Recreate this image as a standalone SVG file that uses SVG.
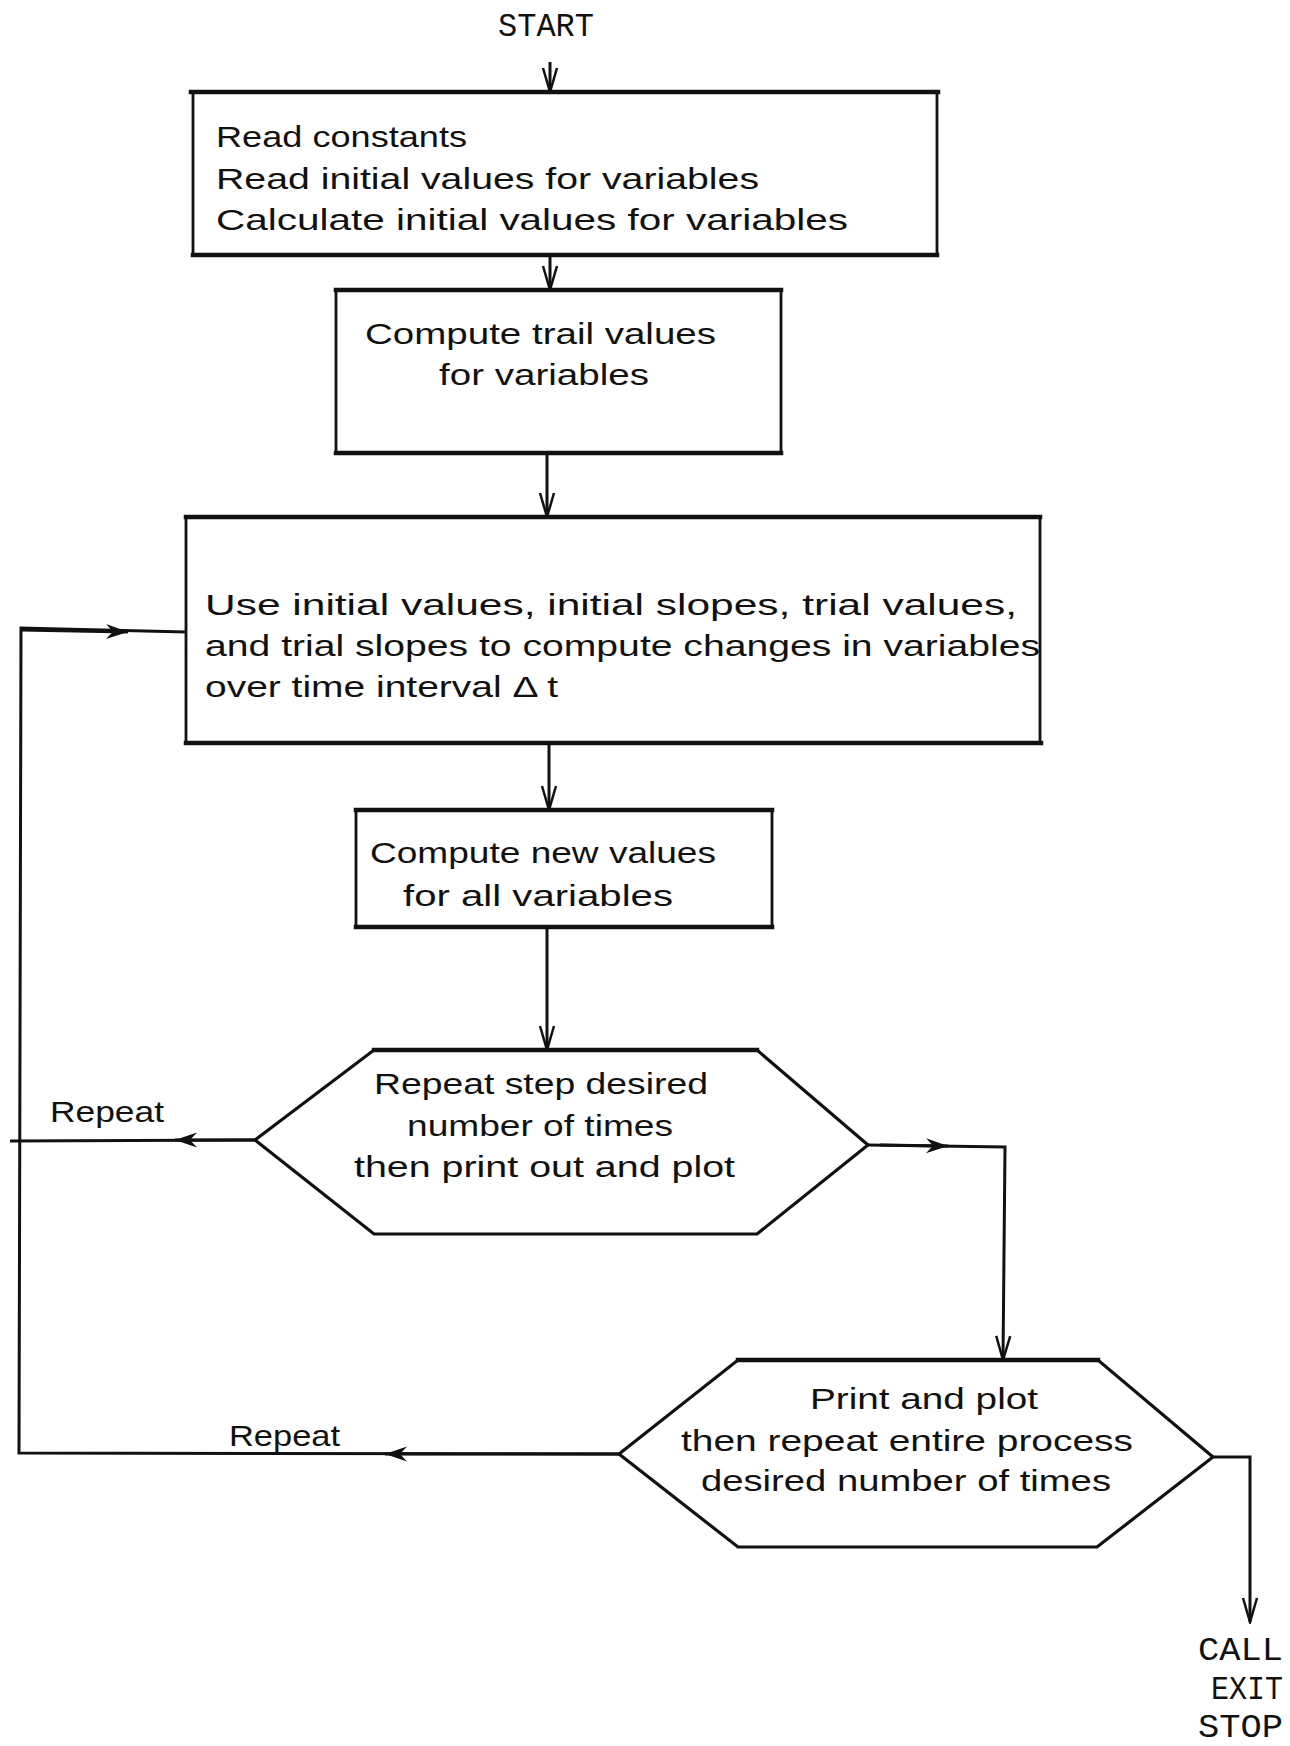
<svg xmlns="http://www.w3.org/2000/svg" width="1290" height="1746" viewBox="0 0 1290 1746">
<style>
.box{fill:#fff;stroke:#111;stroke-width:2.8}
.edge{stroke:#111;stroke-width:4.5;stroke-linecap:square}
.hex{fill:#fff;stroke:#111;stroke-width:3.2}
.t{font-family:"Liberation Sans","DejaVu Sans",sans-serif;font-size:29px;fill:#111}
.tw{font-family:"Liberation Mono","DejaVu Sans Mono",monospace;font-size:34px;fill:#111}
.c{fill:none;stroke:#111;stroke-width:3}
</style>
<defs>
<marker id="vee" viewBox="-26 -10 28 20" refX="0" refY="0" markerWidth="28" markerHeight="20" markerUnits="userSpaceOnUse" orient="auto">
<path d="M-24,-7 L0,0 L-24,7" fill="none" stroke="#111" stroke-width="2.5"/>
</marker>
<marker id="barb" viewBox="-26 -10 28 20" refX="0" refY="0" markerWidth="28" markerHeight="20" markerUnits="userSpaceOnUse" orient="auto">
<path d="M0,0 L-22,-7.5 L-15,0 L-22,7.5 Z" fill="#111"/>
</marker>
</defs>

<text class="tw" x="546" y="36" text-anchor="middle" textLength="96" lengthAdjust="spacingAndGlyphs">START</text>

<g id="connectors">
<path class="c" d="M550,62 L550,92" marker-end="url(#vee)"/>
<path class="c" d="M550,255 L550,290" marker-end="url(#vee)"/>
<path class="c" d="M547,453 L547,517" marker-end="url(#vee)"/>
<path class="c" d="M549,743 L549,810" marker-end="url(#vee)"/>
<path class="c" d="M547,927 L547,1050" marker-end="url(#vee)"/>
<path class="c" d="M868,1145 L1005,1147 L1003,1360" marker-end="url(#vee)"/>
<path class="c" d="M880,1145 L948,1146" marker-end="url(#barb)"/>
<path class="c" d="M255,1140 L10,1141"/>
<path class="c" d="M255,1140 L175,1140" marker-end="url(#barb)"/>
<path class="c" d="M619,1454 L19,1453 L21,628 L186,632"/>
<path class="c" d="M619,1454 L385,1454" marker-end="url(#barb)"/>
<path class="c" d="M21,630 L128,632" marker-end="url(#barb)"/>
<path class="c" d="M1213,1457 L1250,1457 L1250,1622" marker-end="url(#vee)"/>
</g>

<g id="n1">
<rect class="box" x="193" y="92" width="744" height="163"/>
<line class="edge" x1="191" y1="92" x2="938" y2="92"/>
<line class="edge" x1="193" y1="255" x2="937" y2="255"/>
<text class="t" x="216" y="147" textLength="251" lengthAdjust="spacingAndGlyphs">Read constants</text>
<text class="t" x="216" y="189" textLength="543" lengthAdjust="spacingAndGlyphs">Read initial values for variables</text>
<text class="t" x="216" y="230" textLength="632" lengthAdjust="spacingAndGlyphs">Calculate initial values for variables</text>
</g>

<g id="n2">
<rect class="box" x="336" y="290" width="445" height="163"/>
<line class="edge" x1="336" y1="290" x2="781" y2="290"/>
<line class="edge" x1="336" y1="453" x2="781" y2="453"/>
<text class="t" x="365" y="344" textLength="351" lengthAdjust="spacingAndGlyphs">Compute trail values</text>
<text class="t" x="439" y="385" textLength="210" lengthAdjust="spacingAndGlyphs">for variables</text>
</g>

<g id="n3">
<rect class="box" x="186" y="517" width="854" height="226"/>
<line class="edge" x1="186" y1="517" x2="1040" y2="517"/>
<line class="edge" x1="186" y1="743" x2="1041" y2="743"/>
<text class="t" x="205" y="615" textLength="812" lengthAdjust="spacingAndGlyphs">Use initial values, initial slopes, trial values,</text>
<text class="t" x="205" y="656" textLength="835" lengthAdjust="spacingAndGlyphs">and trial slopes to compute changes in variables</text>
<text class="t" x="205" y="697" textLength="353" lengthAdjust="spacingAndGlyphs">over time interval Δ t</text>
</g>

<g id="n4">
<rect class="box" x="356" y="810" width="416" height="117"/>
<line class="edge" x1="356" y1="810" x2="772" y2="810"/>
<line class="edge" x1="356" y1="927" x2="772" y2="927"/>
<text class="t" x="370" y="863" textLength="346" lengthAdjust="spacingAndGlyphs">Compute new values</text>
<text class="t" x="403" y="906" textLength="270" lengthAdjust="spacingAndGlyphs">for all variables</text>
</g>

<g id="n5">
<polygon class="hex" points="374,1050 757,1050 868,1145 757,1234 374,1234 255,1140"/>
<line class="edge" x1="374" y1="1050" x2="757" y2="1050"/>
<text class="t" x="374" y="1094" textLength="334" lengthAdjust="spacingAndGlyphs">Repeat step desired</text>
<text class="t" x="407" y="1136" textLength="266" lengthAdjust="spacingAndGlyphs">number of times</text>
<text class="t" x="354" y="1177" textLength="381" lengthAdjust="spacingAndGlyphs">then print out and plot</text>
</g>

<g id="n6">
<polygon class="hex" points="738,1360 1098,1360 1213,1457 1097,1547 738,1547 619,1454"/>
<line class="edge" x1="738" y1="1360" x2="1098" y2="1360"/>
<text class="t" x="810" y="1409" textLength="228" lengthAdjust="spacingAndGlyphs">Print and plot</text>
<text class="t" x="681" y="1451" textLength="452" lengthAdjust="spacingAndGlyphs">then repeat entire process</text>
<text class="t" x="701" y="1491" textLength="410" lengthAdjust="spacingAndGlyphs">desired number of times</text>
</g>

<text class="t" x="50" y="1122" textLength="114" lengthAdjust="spacingAndGlyphs">Repeat</text>
<text class="t" x="229" y="1446" textLength="111" lengthAdjust="spacingAndGlyphs">Repeat</text>

<g id="n7">
<text class="tw" x="1283" y="1660" text-anchor="end" textLength="85" lengthAdjust="spacingAndGlyphs">CALL</text>
<text class="tw" x="1283" y="1699" text-anchor="end" textLength="72" lengthAdjust="spacingAndGlyphs">EXIT</text>
<text class="tw" x="1283" y="1737" text-anchor="end" textLength="85" lengthAdjust="spacingAndGlyphs">STOP</text>
</g>
</svg>
